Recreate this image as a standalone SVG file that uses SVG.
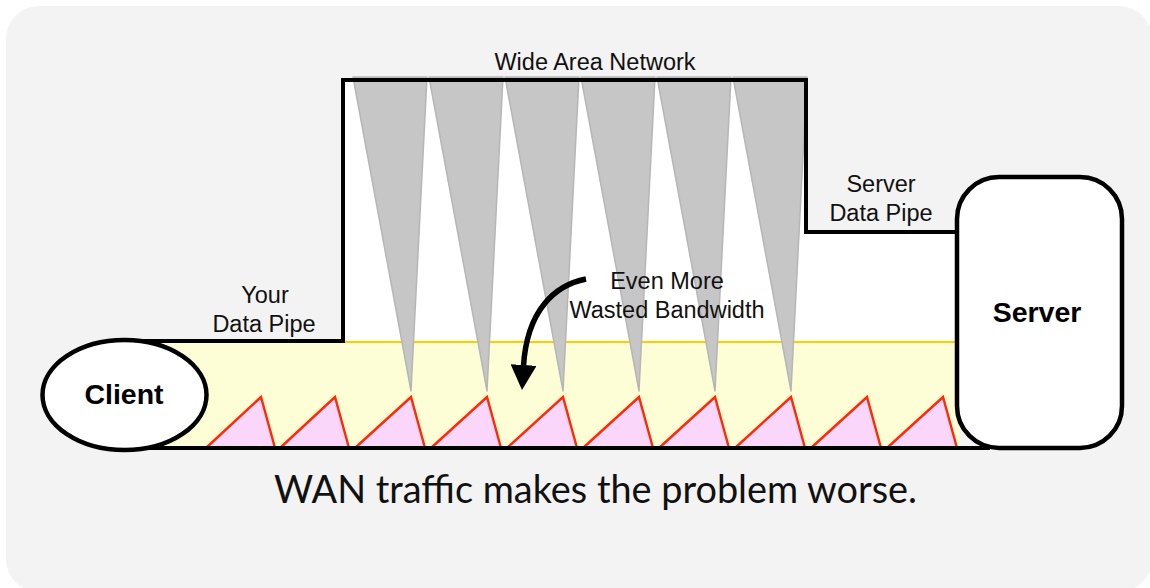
<svg xmlns="http://www.w3.org/2000/svg" width="1150" height="588" viewBox="0 0 1150 588">
  <defs>
    <style>
      .label { font-family: "Liberation Sans", Arial, sans-serif; font-size: 23.5px; fill: #111; text-anchor: middle; }
      .node-title { font-family: "Liberation Sans", Arial, sans-serif; font-size: 28.5px; font-weight: bold; fill: #000; text-anchor: middle; }
      .caption { font-family: Lato, "Open Sans", sans-serif; font-size: 38px; fill: #111; }
      .outline { fill: none; stroke: #000; stroke-width: 4; stroke-linejoin: miter; }
      .wan-packet { fill: #c6c6c6; stroke: #b6b6b6; stroke-width: 1.5; stroke-linejoin: round; }
      .data-packet { fill: #fbd6fb; stroke: #ff2a00; stroke-width: 2.4; stroke-linejoin: miter; }
    </style>
    <marker id="arrowHead" markerUnits="userSpaceOnUse" markerWidth="25" markerHeight="26" refX="1" refY="13" orient="auto" viewBox="0 0 25 26">
      <path d="M0,0 L25,13 L0,26 z" fill="#000"/>
    </marker>
  </defs>

  <!-- panel -->
  <rect x="6" y="6" width="1146" height="586" rx="33" ry="33" fill="#f3f3f3"/>

  <!-- open pipe area above the data band -->
  <polygon points="343,80 806,80 806,232 958,232 958,342 343,342" fill="#ffffff"/>

  <!-- data band -->
  <rect x="124" y="341" width="836" height="107" fill="#fefed6"/>
  <line x1="343" y1="342" x2="958" y2="342" stroke="#ffcc00" stroke-width="2.2"/>

  <!-- WAN traffic -->
  <g id="wan-traffic">
    <polygon class="wan-packet" points="353,77 427,77 411,391"/>
    <polygon class="wan-packet" points="429,77 503,77 487,391"/>
    <polygon class="wan-packet" points="505,77 579,77 563,391"/>
    <polygon class="wan-packet" points="581,77 655,77 639,391"/>
    <polygon class="wan-packet" points="657,77 731,77 715,391"/>
    <polygon class="wan-packet" points="733,77 807,77 791,391"/>
  </g>

  <!-- client data packets -->
  <g id="data-packets">
    <polygon class="data-packet" points="206,448 261,397 275,448"/>
    <polygon class="data-packet" points="280,448 335,397 349,448"/>
    <polygon class="data-packet" points="355,448 411,397 425,448"/>
    <polygon class="data-packet" points="431,448 487,397 501,448"/>
    <polygon class="data-packet" points="507,448 563,397 577,448"/>
    <polygon class="data-packet" points="583,448 639,397 653,448"/>
    <polygon class="data-packet" points="659,448 715,397 729,448"/>
    <polygon class="data-packet" points="735,448 791,397 805,448"/>
    <polygon class="data-packet" points="811,448 867,397 881,448"/>
    <polygon class="data-packet" points="887,448 943,397 957,448"/>
  </g>

  <!-- pipe walls -->
  <g id="pipe">
    <path class="outline" d="M124,341 H343 V80 H806 V232 H958"/>
    <path class="outline" d="M124,448 H990"/>
  </g>

  <!-- client -->
  <g id="client">
    <ellipse cx="124.5" cy="395" rx="82" ry="55" fill="#ffffff" stroke="#000" stroke-width="4.5"/>
    <text class="node-title" x="124" y="404">Client</text>
  </g>

  <!-- server -->
  <g id="server">
    <rect x="957" y="177" width="165" height="271" rx="42" ry="42" fill="#ffffff" stroke="#000" stroke-width="4.5"/>
    <text class="node-title" x="1037" y="322">Server</text>
  </g>

  <!-- connectors -->
  <g id="connectors">
    <path d="M586,279 C555,285 527,310 523.5,366" fill="none" stroke="#000" stroke-width="5.5" marker-end="url(#arrowHead)"/>
  </g>

  <!-- labels -->
  <g id="labels">
    <text class="label" x="595" y="70">Wide Area Network</text>
    <text class="label" x="265" y="303">Your</text>
    <text class="label" x="264" y="332">Data Pipe</text>
    <text class="label" x="881" y="192">Server</text>
    <text class="label" x="881" y="221">Data Pipe</text>
    <text class="label" x="667" y="289">Even More</text>
    <text class="label" x="667" y="318">Wasted Bandwidth</text>
  </g>

  <text class="caption" x="274" y="503" textLength="643" lengthAdjust="spacingAndGlyphs">WAN traffic makes the problem worse.</text>
</svg>
